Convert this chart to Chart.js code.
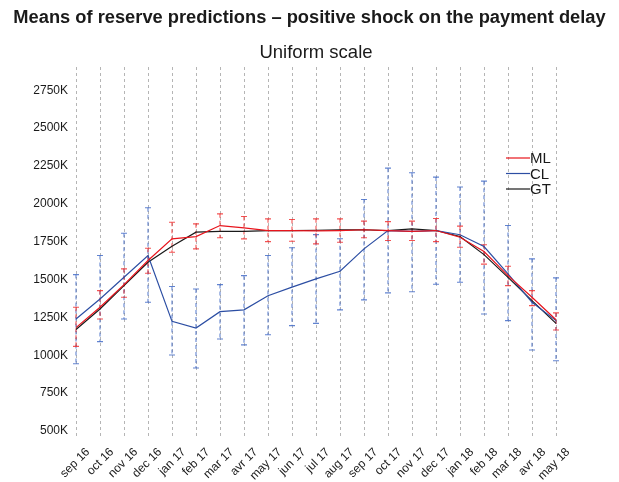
<!DOCTYPE html>
<html>
<head>
<meta charset="utf-8">
<script src="https://cdn.jsdelivr.net/npm/chart.js@4.4.1/dist/chart.umd.min.js"></script>
<style>
  html, body { margin: 0; padding: 0; background: #fff; }
  #wrap { width: 619px; height: 482px; position: relative; }
</style>
</head>
<body>
<div id="wrap"><canvas id="chart"></canvas></div>
<script>
// months on the x axis
const months = ['sep 16', 'oct 16', 'nov 16', 'dec 16', 'jan 17', 'feb 17', 'mar 17', 'avr 17', 'may 17', 'jun 17', 'jul 17',
  'aug 17', 'sep 17', 'oct 17', 'nov 17', 'dec 17', 'jan 18', 'feb 18', 'mar 18', 'avr 18', 'may 18'];

// values in thousands (K)
const gtMeans = [1170, 1306, 1460, 1614, 1720, 1813, 1819, 1819, 1824, 1824, 1826, 1828, 1829, 1824, 1835, 1824, 1785, 1665, 1515, 1361, 1211];

const mlMeans = [1183, 1317, 1467, 1626, 1769, 1784, 1857, 1842, 1824, 1824, 1822, 1824, 1829, 1824, 1819, 1824, 1780, 1685, 1526, 1383, 1235];
const mlLow = [1059, 1240, 1383, 1542, 1681, 1703, 1776, 1769, 1751, 1753, 1736, 1747, 1776, 1758, 1758, 1751, 1714, 1602, 1460, 1328, 1167];
const mlHigh = [1317, 1427, 1571, 1707, 1879, 1868, 1934, 1917, 1901, 1897, 1901, 1901, 1886, 1883, 1886, 1903, 1853, 1730, 1588, 1427, 1280];

const clMeans = [1240, 1372, 1515, 1659, 1224, 1180, 1288, 1300, 1393, 1450, 1505, 1555, 1703, 1824, 1819, 1824, 1796, 1718, 1538, 1350, 1229];
const clLow = [944, 1090, 1240, 1350, 1002, 916, 1108, 1069, 1136, 1196, 1211, 1300, 1366, 1412, 1420, 1469, 1482, 1273, 1229, 1035, 964];
const clHigh = [1533, 1659, 1806, 1974, 1454, 1438, 1467, 1526, 1659, 1710, 1797, 1770, 2029, 2236, 2206, 2177, 2111, 2150, 1857, 1637, 1511];

const yTicks = [500, 750, 1000, 1250, 1500, 1750, 2000, 2250, 2500, 2750];

const mainTitle = 'Means of reserve predictions \u2013 positive shock on the payment delay';
const subTitle = 'Uniform scale';

const FONT = "'Liberation Sans', Arial, Helvetica, sans-serif";
const RED = '#e8141c';
const BLUE = '#2c4ea3';
const BLACK = '#1a1a1a';

// dashed error bars with caps, drawn under the mean lines
const errorBars = {
  id: 'errorBars',
  beforeDatasetsDraw(chart) {
    const { ctx, scales: { x, y } } = chart;
    const drawBars = (low, high, color) => {
      ctx.strokeStyle = color;
      for (let i = 0; i < low.length; i++) {
        const px = x.getPixelForValue(i);
        const yl = y.getPixelForValue(low[i]);
        const yh = y.getPixelForValue(high[i]);
        ctx.setLineDash([4, 3]);
        ctx.beginPath();
        ctx.moveTo(px, yh);
        ctx.lineTo(px, yl);
        ctx.stroke();
        ctx.setLineDash([]);
        ctx.beginPath();
        ctx.moveTo(px - 3, yh);
        ctx.lineTo(px + 3, yh);
        ctx.moveTo(px - 3, yl);
        ctx.lineTo(px + 3, yl);
        ctx.stroke();
      }
    };
    ctx.save();
    ctx.lineWidth = 1.1;
    drawBars(clLow, clHigh, 'rgba(70, 110, 200, 0.85)');
    drawBars(mlLow, mlHigh, 'rgba(240, 40, 40, 0.8)');
    ctx.restore();
  }
};

// titles: main one centred on the page, subtitle centred on the plot
const titles = {
  id: 'titles',
  afterDraw(chart) {
    const { ctx, chartArea, width } = chart;
    ctx.save();
    ctx.fillStyle = '#1a1a1a';
    ctx.textAlign = 'center';
    ctx.textBaseline = 'middle';
    ctx.font = 'bold 18.3px ' + FONT;
    ctx.fillText(mainTitle, width / 2, 18);
    ctx.font = '18.5px ' + FONT;
    ctx.fillText(subTitle, (chartArea.left + chartArea.right) / 2, chartArea.top - 14);
    ctx.restore();
  }
};

// legend inside the plot, top right
const insideLegend = {
  id: 'insideLegend',
  afterDraw(chart) {
    const { ctx, chartArea } = chart;
    const x0 = chartArea.right - 50;
    const y0 = chartArea.top + 91;
    ctx.save();
    ctx.font = '15px ' + FONT;
    ctx.textBaseline = 'middle';
    chart.data.datasets.forEach((ds, i) => {
      const yy = y0 + i * 15.5;
      ctx.strokeStyle = ds.borderColor;
      ctx.lineWidth = 1.2;
      ctx.beginPath();
      ctx.moveTo(x0, yy);
      ctx.lineTo(x0 + 24, yy);
      ctx.stroke();
      ctx.fillStyle = '#1a1a1a';
      ctx.fillText(ds.label, x0 + 24, yy + 1);
    });
    ctx.restore();
  }
};

new Chart(document.getElementById('chart'), {
  type: 'line',
  data: {
    labels: months,
    datasets: [
      { label: 'ML', data: mlMeans, borderColor: RED, borderWidth: 1.2, pointRadius: 0, tension: 0 },
      { label: 'CL', data: clMeans, borderColor: BLUE, borderWidth: 1.2, pointRadius: 0, tension: 0 },
      { label: 'GT', data: gtMeans, borderColor: BLACK, borderWidth: 1.2, pointRadius: 0, tension: 0 }
    ]
  },
  options: {
    responsive: true,
    maintainAspectRatio: false,
    animation: false,
    layout: { padding: { left: 0, right: 63, top: 67, bottom: 0 } },
    plugins: {
      legend: { display: false },
      tooltip: { enabled: false }
    },
    scales: {
      x: {
        offset: false,
        grid: { display: true, color: '#b5b5b5', lineWidth: 1, drawTicks: false },
        border: { display: false, dash: [3, 3] },
        afterFit(scale) { scale.height = 46; },
        ticks: {
          color: '#1a1a1a',
          font: { family: FONT, size: 12 },
          minRotation: 45,
          maxRotation: 45,
          padding: 9,
          labelOffset: 12,
          autoSkip: false
        }
      },
      y: {
        min: 467,
        max: 2904,
        grid: { display: false, drawTicks: false },
        border: { display: false },
        afterFit(scale) { scale.width = 76; },
        afterBuildTicks(scale) {
          scale.ticks = yTicks.map(v => ({ value: v }));
        },
        ticks: {
          color: '#1a1a1a',
          font: { family: FONT, size: 12 },
          padding: 8,
          callback: v => v + 'K'
        }
      }
    }
  },
  plugins: [errorBars, titles, insideLegend]
});
</script>
</body>
</html>
